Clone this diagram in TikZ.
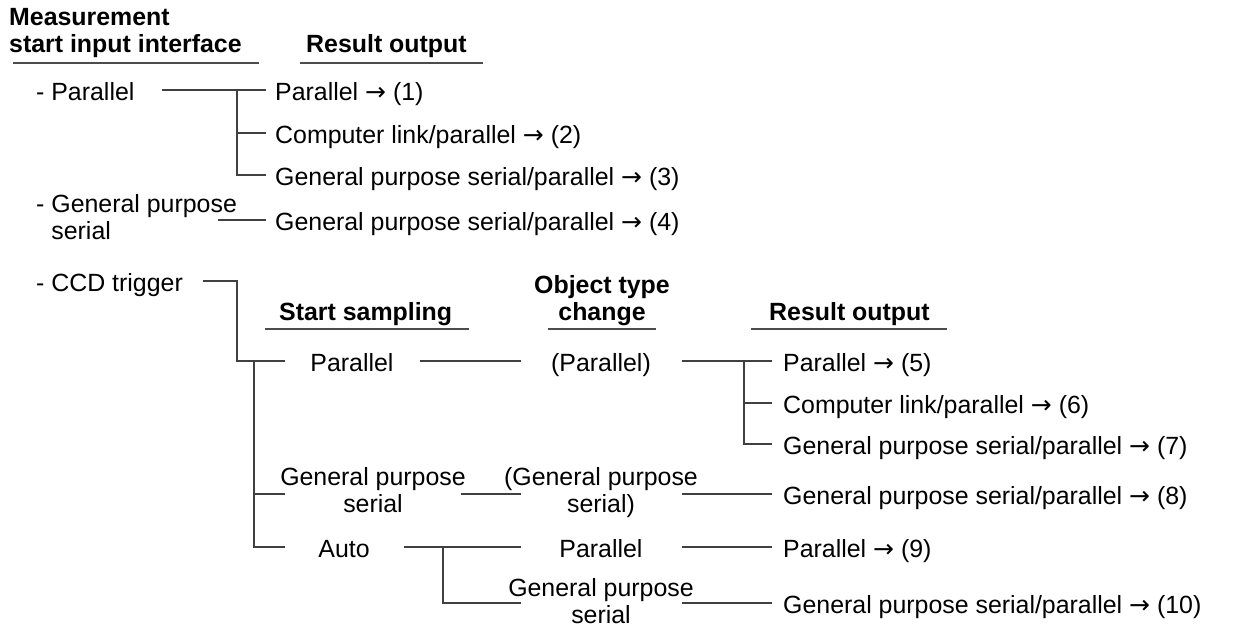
\documentclass[tikz,border=0pt]{standalone}
\usepackage{fontspec}
\setmainfont{Liberation Sans}
\newfontfamily\arrowfont{DejaVu Sans}
\newcommand\goesto{{\fontsize{25}{25}\arrowfont →}}
\usetikzlibrary{positioning}
\tikzset{
  txt/.style={inner sep=0pt, font=\fontsize{24.9}{27}\selectfont, text height=21pt, text depth=0pt},
  txtw/.style={txt, align=center, text height=36pt, text depth=0pt},
  head/.style={inner sep=0pt, font=\fontsize{24.9}{27}\selectfont\bfseries},
  tree/.style={draw=black!75, line width=1.3pt},
  rule/.style={draw=black!70, line width=1.3pt},
}

\begin{document}
\begin{tikzpicture}[x=1pt, y=-1pt]
  \useasboundingbox (0,0) rectangle (1258,628);

  % --- headings
  \node[head, anchor=base west, align=left] (hIn) at (9,53) {Measurement\\start input interface};
  \node[head, anchor=base west] (hOut) at (306,53) {Result output};
  \node[head, anchor=base west] (hSamp) at (279,320) {Start sampling};
  \node[head, anchor=base, align=center] (hObj) at (602,320) {Object type\\change};
  \node[head, anchor=base west] (hOut2) at (769,320) {Result output};
  \foreach \a/\b/\y in {13/259/63, 300/483/63, 265/469/329, 548/656/329, 751/947/329}
    \draw[rule] (\a,\y) -- (\b,\y);

  % --- start input
  \node[txt, anchor=west] (pin1) at (36,90) {- Parallel};
  \node[txtw, anchor=west, align=left] (pin2) at (36,222) {- General purpose\\\phantom{- }serial};
  \node[txt, anchor=west] (pin3) at (36,281) {- CCD trigger};

  % --- result output (upper)
  \node[txt, anchor=west] (r1) at (275,90) {Parallel \goesto{} (1)};
  \node[txt, anchor=west] (r2) at (275,133) {Computer link/parallel \goesto{} (2)};
  \node[txt, anchor=west] (r3) at (275,175) {General purpose serial/parallel \goesto{} (3)};
  \node[txt, anchor=west] (r4) at (275,220) {General purpose serial/parallel \goesto{} (4)};

  % --- start sampling / object type change
  \node[txt] (s1) at (352,361) {Parallel};
  \node[txtw] (s2) at (373,494) {General purpose\\serial};
  \node[txt] (s3) at (344,547) {Auto};
  \node[txt] (o1) at (601,361) {(Parallel)};
  \node[txtw] (o2) at (601,494) {(General purpose\\serial)};
  \node[txt] (o3) at (601,547) {Parallel};
  \node[txtw] (o4) at (601,605) {General purpose\\serial};

  % --- result output (lower)
  \node[txt, anchor=west] (t5) at (783,361) {Parallel \goesto{} (5)};
  \node[txt, anchor=west] (t6) at (783,403) {Computer link/parallel \goesto{} (6)};
  \node[txt, anchor=west] (t7) at (783,444) {General purpose serial/parallel \goesto{} (7)};
  \node[txt, anchor=west] (t8) at (783,494) {General purpose serial/parallel \goesto{} (8)};
  \node[txt, anchor=west] (t9) at (783,547) {Parallel \goesto{} (9)};
  \node[txt, anchor=west] (t10) at (783,603) {General purpose serial/parallel \goesto{} (10)};

  % --- buses and columns
  \coordinate (busA) at (237,0);
  \coordinate (busB) at (254,0);
  \coordinate (busC) at (443,0);
  \coordinate (busD) at (744,0);
  \coordinate (colA) at (285,0);
  \coordinate (colB) at (521,0);
  \coordinate (colC) at (682,0);

  % --- upper tree
  \draw[tree] ([xshift=27]pin1.east) -- ([xshift=-9]r1.west);
  \draw[tree] (busA |- r1) |- ([xshift=-9]r3.west);
  \draw[tree] (busA |- r2) -- ([xshift=-9]r2.west);
  \draw[tree] ([xshift=-19]pin2.east |- r4) -- ([xshift=-9]r4.west);

  % --- CCD trigger tree
  \draw[tree] ([xshift=20]pin3.east) -| (busA |- s1) -- (colA |- s1);
  \draw[tree] (busB |- s1) |- (colA |- s3);
  \draw[tree] (busB |- s2) -- (colA |- s2);
  \draw[tree] ([xshift=26]s1.east) -- (colB |- o1);
  \draw[tree] ([xshift=-5]s2.east) -- (colB |- o2);
  \draw[tree] ([xshift=34]s3.east) -- (colB |- o3);
  \draw[tree] (busC |- s3) |- (colB |- t10);
  \draw[tree] (colC |- o1) -- ([xshift=-11]t5.west);
  \draw[tree] (busD |- t5) |- ([xshift=-11]t7.west);
  \draw[tree] (busD |- t6) -- ([xshift=-11]t6.west);
  \draw[tree] (colC |- o2) -- ([xshift=-11]t8.west);
  \draw[tree] (colC |- o3) -- ([xshift=-11]t9.west);
  \draw[tree] (colC |- t10) -- ([xshift=-11]t10.west);
\end{tikzpicture}
\end{document}
